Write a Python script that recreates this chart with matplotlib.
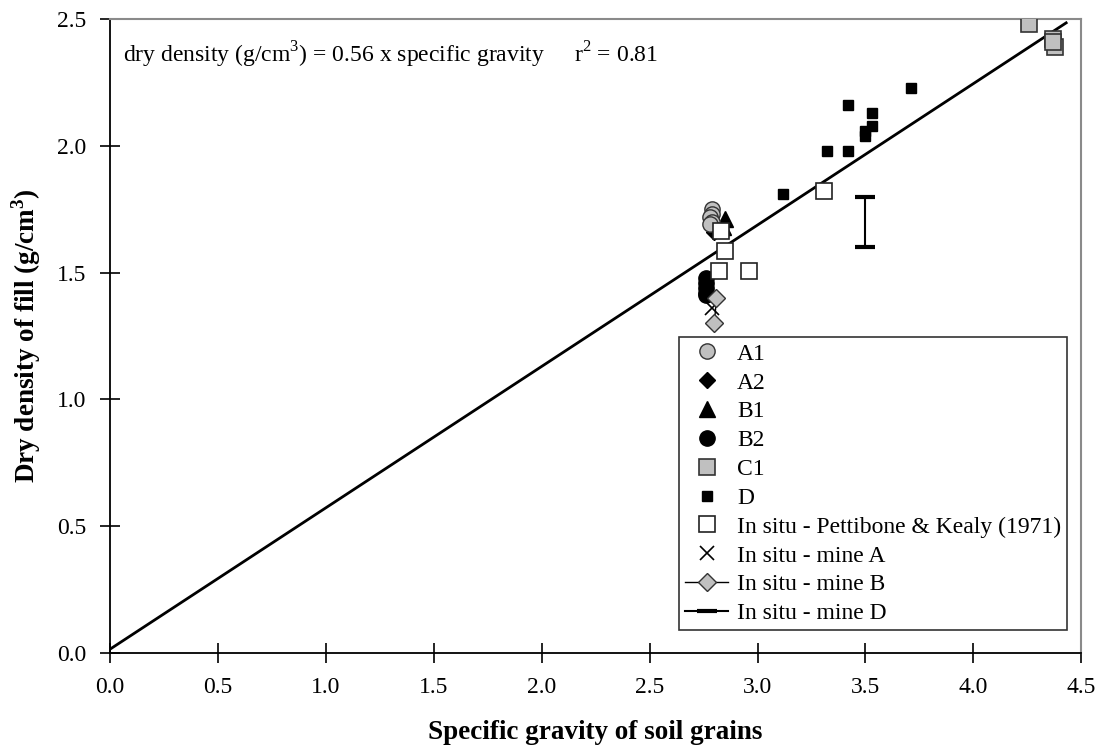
import matplotlib
matplotlib.use("Agg")
import matplotlib.pyplot as plt

plt.rcParams['font.family'] = ['Liberation Serif', 'DejaVu Serif']
plt.rcParams['mathtext.fontset'] = 'custom'
plt.rcParams['mathtext.rm'] = 'Liberation Serif'
plt.rcParams['mathtext.bf'] = 'Liberation Serif:bold'

# ---- data ----
a1_x = [2.79, 2.79, 2.78, 2.79, 2.78]
a1_y = [1.75, 1.73, 1.72, 1.70, 1.69]
a2_x = [2.80, 2.81]
a2_y = [1.66, 1.67]
b1_x = [2.85, 2.84]
b1_y = [1.71, 1.68]
b2_x = [2.76, 2.76, 2.76, 2.76, 2.76]
b2_y = [1.48, 1.46, 1.44, 1.42, 1.41]
c1_x = [4.26, 4.37, 4.38, 4.37]
c1_y = [2.48, 2.42, 2.39, 2.41]
d_x = [3.71, 3.42, 3.53, 3.53, 3.50, 3.50, 3.32, 3.42, 3.12]
d_y = [2.23, 2.16, 2.13, 2.08, 2.06, 2.04, 1.98, 1.98, 1.81]
pk_x = [3.31, 2.83, 2.85, 2.82, 2.96]
pk_y = [1.82, 1.665, 1.585, 1.505, 1.505]
mineA_x = [2.79]
mineA_y = [1.36]
mineB_x = [2.81, 2.80]
mineB_y = [1.40, 1.30]
mineD_x = [3.50, 3.50]
mineD_y = [1.60, 1.80]
fit_x = [0.0, 4.43]
fit_y = [0.015, 2.485]

xticks = [0.0, 0.5, 1.0, 1.5, 2.0, 2.5, 3.0, 3.5, 4.0, 4.5]
yticks = [0.0, 0.5, 1.0, 1.5, 2.0, 2.5]

fig = plt.figure(figsize=(11.03, 7.47), dpi=100)
ax = fig.add_axes([0.0997, 0.1258, 0.8806, 0.8487])

grey = '#c0c0c0'
ax.plot(fit_x, fit_y, color='black', lw=2, zorder=1)

ax.plot(a1_x, a1_y, 'o', ms=11, mfc=grey, mec='#333333', mew=1, label='A1', zorder=3)
ax.plot(a2_x, a2_y, 'D', ms=8, mfc='black', mec='black', label='A2', zorder=2)
ax.plot(b1_x, b1_y, '^', ms=11, mfc='black', mec='black', label='B1', zorder=2)
ax.plot(b2_x, b2_y, 'o', ms=11, mfc='black', mec='black', label='B2', zorder=2)
ax.plot(c1_x, c1_y, 's', ms=11, mfc=grey, mec='#333333', mew=1.2, label='C1', zorder=3)
ax.plot(d_x, d_y, 's', ms=7, mfc='black', mec='black', label='D', zorder=3)
ax.plot(pk_x, pk_y, 's', ms=11, mfc='white', mec='#222222', mew=1.2,
        label='In situ - Pettibone & Kealy (1971)', zorder=4)
ax.plot(mineA_x, mineA_y, 'x', ms=10, mec='black', mew=1.2, label='In situ - mine A', zorder=4)
ax.plot(mineB_x, mineB_y, '-D', color='black', lw=1, ms=9, mfc=grey, mec='#333333', mew=1,
        label='In situ - mine B', zorder=4)
ax.plot(mineD_x, mineD_y, '-_', color='black', lw=1.5, ms=14, mew=3,
        label='In situ - mine D', zorder=4)

ax.set_xlim(0, 4.5)
ax.set_ylim(0, 2.5)
ax.set_xticks(xticks)
ax.set_yticks(yticks)
ax.set_xticklabels([f'{t:.1f}' for t in xticks])
ax.set_yticklabels([f'{t:.1f}' for t in yticks])
ax.tick_params(direction='inout', length=14, width=1.2, labelsize=17, pad=10)

for s in ['left', 'bottom']:
    ax.spines[s].set_color('black')
    ax.spines[s].set_linewidth(1.3)
for s in ['top', 'right']:
    ax.spines[s].set_color('#8a8a8a')
    ax.spines[s].set_linewidth(1.5)

ax.set_xlabel('Specific gravity of soil grains', fontsize=19.5, fontweight='bold', labelpad=16)
ax.set_ylabel(r'Dry density of fill (g/cm$^\mathbf{3}$)', fontsize=19.5, fontweight='bold', labelpad=10)

ax.text(0.013, 0.943, r'dry density (g/cm$^3$) = 0.56 x specific gravity', transform=ax.transAxes,
        fontsize=17, va='center', ha='left')
ax.text(0.478, 0.943, r'r$^2$ = 0.81', transform=ax.transAxes,
        fontsize=17, va='center', ha='left')

leg = ax.legend(loc='lower right', bbox_to_anchor=(0.9856, 0.036), fontsize=17,
                frameon=True, fancybox=False, shadow=False, borderpad=0.25,
                labelspacing=0.31, handlelength=1.8, handletextpad=0.4, borderaxespad=0)
leg.get_frame().set_edgecolor('black')
leg.get_frame().set_linewidth(1.2)

fig.savefig('out.png', dpi=100)
